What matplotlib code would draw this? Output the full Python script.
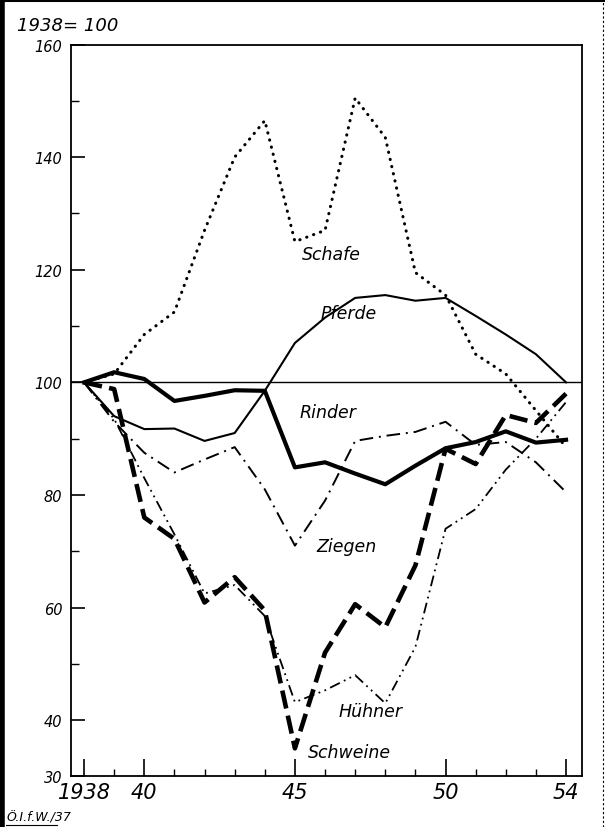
import matplotlib
matplotlib.use("Agg")
import matplotlib.pyplot as plt
from matplotlib.lines import Line2D

# index 1938 = 100
years = list(range(1938, 1955))
schafe = [100, 101.5, 108.5, 112.5, 127, 140, 146.5, 125, 127, 150.5, 143.5,
          119.5, 115.5, 105, 101.5, 95, 88.5]
pferde = [100, 94, 91.7, 91.8, 89.6, 91, 98.5, 107, 111.5, 115, 115.5,
          114.5, 115, 111.8, 108.5, 105, 100]
rinder = [100, 101.8, 100.6, 96.7, 97.6, 98.6, 98.5, 84.9, 85.8, 83.8, 81.9,
          85.2, 88.3, 89.4, 91.3, 89.3, 89.8]
ziegen = [100, 93, 87.5, 84, 86.3, 88.5, 81, 71, 79, 89.6, 90.5,
          91.2, 93, 88.9, 89.4, 85.8, 80.5]
huehner = [100, 93.5, 83, 73, 62.5, 64, 58.5, 43.2, 45.3, 48, 43,
           53, 74, 77.5, 84.5, 90, 96.5]
schweine = [100, 98.8, 76, 72.2, 60.9, 65.4, 59.5, 35, 52, 60.6, 56.5,
            67.5, 88.2, 85.5, 94.2, 92.8, 98]

y_labels = [30, 40, 60, 80, 100, 120, 140, 160]
y_minor = [50, 70, 90, 110, 130, 150]
x_major = [1938, 1940, 1945, 1950, 1954]
x_major_text = ["1938", "40", "45", "50", "54"]

# (name, x, y) for the curve names written on the chart
names = [("Schafe", 1946.2, 122.8), ("Pferde", 1946.8, 112.4),
         ("Rinder", 1946.1, 94.7), ("Ziegen", 1946.7, 71.0),
         ("Hühner", 1947.5, 41.6), ("Schweine", 1946.8, 34.4)]

plt.rcParams['font.family'] = ['DejaVu Sans']

fig = plt.figure(figsize=(6.05, 8.28), dpi=100)
ax = fig.add_axes([0.117, 0.061, 0.845, 0.884])

ax.axhline(100, color="black", lw=1.0)
ax.plot(years, schafe, color="black", lw=2.2, linestyle=(0, (0.1, 2.3)),
        dash_capstyle="round")
ax.plot(years, pferde, color="black", lw=1.5)
ax.plot(years, rinder, color="black", lw=3.0)
ax.plot(years, ziegen, color="black", lw=1.4, linestyle=(0, (7, 3, 1, 3)))
ax.plot(years, huehner, color="black", lw=1.3,
        linestyle=(0, (6, 2.5, 1, 2.5, 1, 2.5)))
ax.plot(years, schweine, color="black", lw=3.3, linestyle=(0, (4, 1.6)))

for name, x, y in names:
    ax.text(x, y, name, fontsize=12.5, style="italic", ha="center",
            va="center")

ax.set_xlim(1937.56, 1954.53)
ax.set_ylim(30, 160)

ax.set_xticks(x_major)
ax.set_xticklabels(x_major_text, fontsize=15, style="italic")
ax.set_xticks(years, minor=True)
ax.set_yticks(y_labels)
ax.set_yticklabels([str(v) for v in y_labels], fontsize=10.5, style="italic")
ax.set_yticks(y_minor, minor=True)
ax.tick_params(axis="x", which="major", direction="in", length=12, width=1.2,
               pad=4)
ax.tick_params(axis="x", which="minor", direction="in", length=5, width=1)
ax.tick_params(axis="y", which="major", direction="in", length=10, width=1.2,
               pad=6)
ax.tick_params(axis="y", which="minor", direction="in", length=6, width=1)
for s in ax.spines.values():
    s.set_linewidth(1.3)

fig.text(0.028, 0.968, "1938= 100", fontsize=13, style="italic",
         va="center")
fig.text(0.01, 0.012, "Ö.I.f.W./37", fontsize=9, style="italic",
         va="center")
fig.add_artist(Line2D([0.01, 0.095], [0.003, 0.003], color="black", lw=0.8))

# frame around the sheet
fig.add_artist(Line2D([0.004, 0.004], [0.0, 1.0], color="black", lw=4))
fig.add_artist(Line2D([0.0, 1.0], [0.997, 0.997], color="black", lw=1.5))
fig.add_artist(Line2D([0.997, 0.997], [0.0, 1.0], color="black", lw=0.8,
                      linestyle=(0, (2, 2))))

fig.savefig("out.png", dpi=100)
